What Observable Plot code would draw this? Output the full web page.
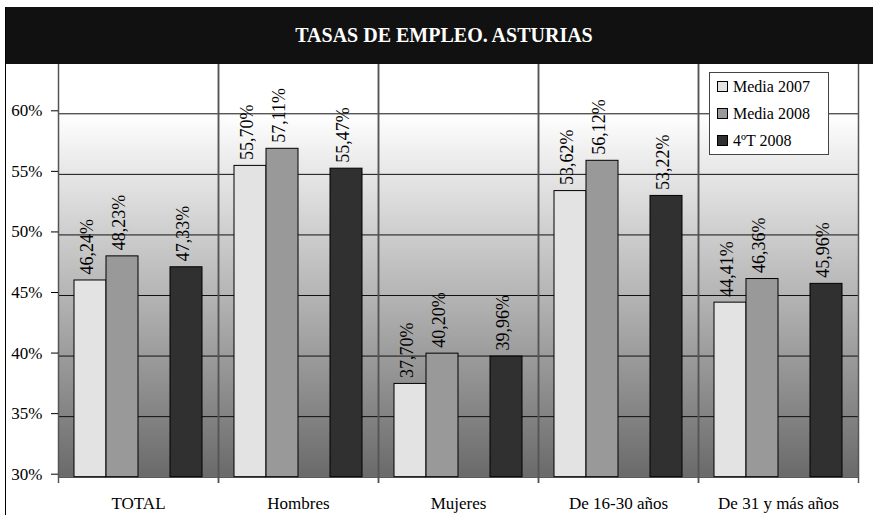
<!DOCTYPE html>
<html><head><meta charset="utf-8">
<script src="https://cdn.jsdelivr.net/npm/d3@7"></script>
<script src="https://cdn.jsdelivr.net/npm/@observablehq/plot@0.6"></script>
<style>
body{margin:0;background:#fff;font-family:"Liberation Serif","Tinos","Times New Roman","DejaVu Serif","Noto Serif","FreeSerif",serif;}
#wrap{position:relative;width:873px;height:515px;overflow:hidden;background:#fff;}
#title{position:absolute;left:5px;top:7px;width:868px;height:57px;background:#111;color:#fff;font-weight:bold;font-size:20px;text-align:center;line-height:57px;padding-left:10px;box-sizing:border-box;}
#border{position:absolute;left:5px;top:7px;width:1px;height:508px;background:#000;z-index:3;}
#chart{position:absolute;left:0;top:64px;}
#legend{position:absolute;left:709px;top:72px;width:118px;height:81px;border:1px solid #444;background:#fff;z-index:2;font-size:16px;color:#000;}
#legend .row{display:flex;align-items:center;height:27px;padding-left:7px;}
#legend .sw{width:9px;height:9px;border:1px solid #000;margin-right:5px;}
</style>
</head><body>
<div id="wrap">
  <div id="title">TASAS DE EMPLEO. ASTURIAS</div>
  <div id="border"></div>
  <div id="chart"></div>
  <div id="legend"></div>
</div>
<script>
const categories = ["TOTAL", "Hombres", "Mujeres", "De 16-30 años", "De 31 y más años"];
const seriesNames = ["Media 2007", "Media 2008", "4ºT 2008"];
const seriesColors = ["#e3e3e3", "#999999", "#303030"];
const media2007 = [46.24, 55.70, 37.70, 53.62, 44.41];
const media2008 = [48.23, 57.11, 40.20, 56.12, 46.36];
const t4_2008   = [47.33, 55.47, 39.96, 53.22, 45.96];
const yTicks = [30, 35, 40, 45, 50, 55, 60];
const slots = ["Media 2007", "Media 2008", "·", "4ºT 2008"];

const seriesValues = [media2007, media2008, t4_2008];
const data = [];
categories.forEach((c, i) => {
  seriesNames.forEach((s, j) => data.push({cat: c, series: s, value: seriesValues[j][i]}));
});
const fmt = v => v.toFixed(2).replace(".", ",") + "%";
const serif = '"Liberation Serif","Tinos","Times New Roman","DejaVu Serif","Noto Serif","FreeSerif",serif';

const plot = Plot.plot({
  width: 873,
  height: 451,
  marginLeft: 57,
  marginRight: 15,
  marginTop: 0,
  marginBottom: 38.3,
  style: {fontFamily: serif, fontSize: "17px", background: "transparent", color: "#000"},
  fx: {domain: categories, padding: 0},
  x: {domain: slots, paddingInner: 0, paddingOuter: 0.5, axis: null},
  y: {domain: [30, 64.07], axis: null},
  color: {domain: seriesNames, range: seriesColors},
  marks: [
    Plot.rect([0], {y1: 30, y2: 60, fill: "url(#bggrad)"}),
    Plot.ruleY(yTicks, {stroke: "#111", strokeWidth: 1}),
    Plot.frame({anchor: "left", stroke: "#555", strokeWidth: 1.5, insetBottom: -5}),
    Plot.frame({anchor: "right", stroke: "#555", strokeWidth: 1.5, insetBottom: -5}),
    Plot.barY(data, {fx: "cat", x: "series", y1: 30, y2: "value", fill: "series", stroke: "#000", strokeWidth: 1}),
    Plot.text(data, {fx: "cat", x: "series", y: "value", text: d => fmt(d.value), rotate: -90, textAnchor: "start", dy: -6, dx: -3, fontSize: 18, fontFamily: serif, fill: "#000"}),
    Plot.axisY({ticks: yTicks, tickFormat: d => d + "%", tickSize: 7, tickPadding: 9, dy: -3, label: null, fontSize: 17, fontFamily: serif}),
    Plot.axisFx({anchor: "bottom", tickSize: 0, tickPadding: 20, label: null, fontSize: 17, fontFamily: serif})
  ]
});

const svg = plot.tagName.toLowerCase() === "svg" ? plot : plot.querySelector("svg");
const ns = "http://www.w3.org/2000/svg";
const defs = document.createElementNS(ns, "defs");
const grad = document.createElementNS(ns, "linearGradient");
grad.setAttribute("id", "bggrad");
grad.setAttribute("x1", "0"); grad.setAttribute("y1", "0");
grad.setAttribute("x2", "0"); grad.setAttribute("y2", "1");
[["0%", "#ffffff"], ["100%", "#6a6a6a"]].forEach(([o, c]) => {
  const st = document.createElementNS(ns, "stop");
  st.setAttribute("offset", o); st.setAttribute("stop-color", c);
  grad.appendChild(st);
});
defs.appendChild(grad);
svg.insertBefore(defs, svg.firstChild);
document.getElementById("chart").appendChild(plot);

const legend = document.getElementById("legend");
seriesNames.forEach((s, i) => {
  const row = document.createElement("div");
  row.className = "row";
  const sw = document.createElement("span");
  sw.className = "sw";
  sw.style.background = seriesColors[i];
  const tx = document.createElement("span");
  tx.textContent = s;
  row.appendChild(sw); row.appendChild(tx);
  legend.appendChild(row);
});
</script>
</body></html>
